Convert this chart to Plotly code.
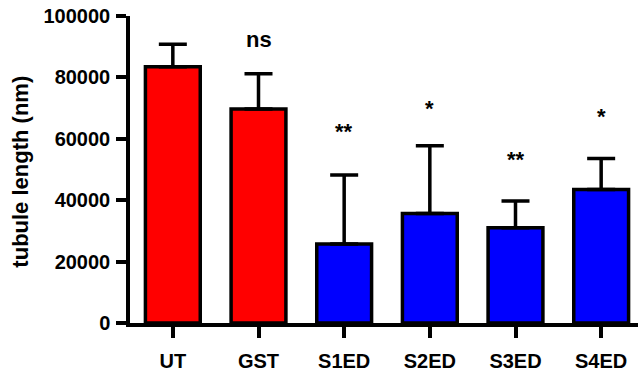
import plotly.graph_objects as go

categories = ["UT", "GST", "S1ED", "S2ED", "S3ED", "S4ED"]
means = [83500, 69700, 25700, 35700, 31000, 43500]
errors = [7300, 11500, 22500, 22000, 8700, 10100]
bar_colors = ["#FF0000", "#FF0000", "#0000FF", "#0000FF", "#0000FF", "#0000FF"]
sig_labels = ["", "ns", "**", "*", "**", "*"]
sig_y = [None, 92300, 62500, 69800, 53400, 67300]
y_ticks = [0, 20000, 40000, 60000, 80000, 100000]

FONT = "Liberation Sans, Arial, sans-serif"

fig = go.Figure()
fig.add_trace(go.Bar(
    x=categories, y=means, width=0.64,
    marker=dict(color=bar_colors, line=dict(color="black", width=3.5)),
    error_y=dict(type="data", symmetric=False, array=errors,
                 arrayminus=[0] * len(errors), color="black",
                 thickness=3.5, width=14),
    hoverinfo="skip",
))

for c, lab, yv in zip(categories, sig_labels, sig_y):
    if lab:
        fig.add_annotation(x=c, y=yv, text=lab, showarrow=False,
                           xanchor="center", yanchor="middle",
                           font=dict(family=FONT, size=22, color="black", weight="bold"))

fig.add_annotation(xref="paper", yref="paper", x=-0.2146, y=0.493,
                   text="tubule length (nm)", textangle=-90, showarrow=False,
                   xanchor="center", yanchor="middle",
                   font=dict(family=FONT, size=22, color="black", weight="bold"))

fig.update_layout(
    width=638, height=376,
    margin=dict(l=130, r=0, t=16, b=53, autoexpand=False),
    plot_bgcolor="white", paper_bgcolor="white",
    showlegend=False,
    font=dict(family=FONT, size=20, color="black", weight="bold"),
)
fig.update_xaxes(range=[-0.5, 5.43], showline=True, linecolor="black", linewidth=3.5,
                 ticks="outside", ticklen=11, tickwidth=3.5, tickcolor="black",
                 showgrid=False, zeroline=False, ticklabelstandoff=6, automargin=False)
fig.update_yaxes(range=[0, 100000], tickvals=y_ticks, ticktext=[str(v) for v in y_ticks],
                 showline=True, linecolor="black", linewidth=3.5,
                 ticks="outside", ticklen=10, tickwidth=3.5, tickcolor="black",
                 showgrid=False, zeroline=False, ticklabelstandoff=2, automargin=False,
                 ticklabeloverflow="allow")

fig.write_html("out.html", config={"displayModeBar": False},
               post_script="document.body.style.margin='0px';")
